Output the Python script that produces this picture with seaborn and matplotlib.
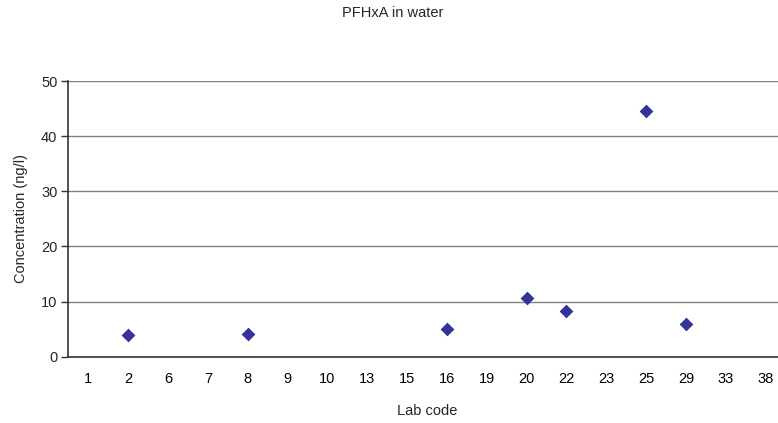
import matplotlib
matplotlib.use("Agg")
import matplotlib.pyplot as plt
from matplotlib.ticker import MultipleLocator, FixedLocator, NullFormatter
import seaborn as sns
import pandas as pd

# Lab codes shown on the axis, in order
lab_codes = ["1", "2", "6", "7", "8", "9", "10", "13", "15", "16",
             "19", "20", "22", "23", "25", "29", "33", "38"]

# Labs that reported a PFHxA result and their concentrations (ng/l)
reporting_labs = ["2", "8", "16", "20", "22", "25", "29"]
concentrations = [4.0, 4.2, 5.0, 10.6, 8.2, 44.6, 6.0]

df = pd.DataFrame({"lab": reporting_labs, "conc": concentrations})

sns.set_style("white")
plt.rcParams["font.family"] = ["Liberation Sans", "DejaVu Sans"]

fs = 10.5

fig = plt.figure(figsize=(7.78, 4.23), dpi=100)
ax = fig.add_axes([0.088, 0.1567, 0.9217, 0.6518])

sns.stripplot(data=df, x="lab", y="conc", order=lab_codes, jitter=False,
              marker="D", size=7, color="#333399", linewidth=0, ax=ax,
              zorder=3)

ax.set_ylim(0, 50)
ax.set_xlim(-0.5, len(lab_codes) - 0.5)
ax.yaxis.set_major_locator(MultipleLocator(10))
ax.yaxis.grid(True, color="#808080", linewidth=1)
ax.set_axisbelow(True)

# Tick marks sit on the category boundaries, labels in the middle
ax.xaxis.set_minor_locator(FixedLocator([i + 0.5 for i in range(-1, len(lab_codes))]))
ax.xaxis.set_minor_formatter(NullFormatter())
ax.tick_params(axis="x", which="major", length=0, pad=11, labelsize=fs, colors="black")
ax.tick_params(axis="x", which="minor", length=5, width=1, color="#333333",
               direction="out")
ax.tick_params(axis="y", which="major", length=5, width=1, color="#333333",
               direction="out", labelsize=fs, pad=3)
ax.tick_params(axis="y", left=True)

for side in ("top", "right"):
    ax.spines[side].set_visible(False)
for side in ("left", "bottom"):
    ax.spines[side].set_color("#333333")
    ax.spines[side].set_linewidth(1.2)

ax.set_xlabel("Lab code", fontsize=fs, labelpad=13)
ax.set_ylabel("Concentration (ng/l)", fontsize=fs, labelpad=9)
fig.text(0.505, 0.97, "PFHxA in water", ha="center", va="center", fontsize=fs)

fig.savefig("out.png", dpi=100)
